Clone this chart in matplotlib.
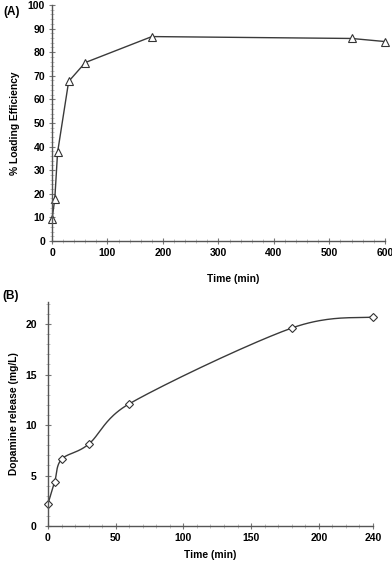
import matplotlib.pyplot as plt
import numpy as np
from matplotlib.ticker import MultipleLocator

plt.rcParams['font.family'] = ['Liberation Sans', 'DejaVu Sans']
plt.rcParams['font.weight'] = 'bold'

# Panel A: loading efficiency
time_a = [0, 5, 10, 30, 60, 180, 540, 600]
loading = [9.2, 17.8, 37.5, 67.6, 75.6, 86.6, 85.8, 84.5]

# Panel B: dopamine release
time_b = [0, 5, 10, 30, 60, 180, 240]
release = [2.2, 4.4, 6.6, 8.1, 12.1, 19.6, 20.7]

line_col = '#3a3a3a'


def excel_smooth(ax, x, y, n=40):
    # Excel-like smoothed line: Bezier segments, arms = min(d/6, chord/2),
    # computed in screen space so the scaling of the axes is respected
    pts = ax.transData.transform(np.column_stack([x, y]))
    p = np.vstack([pts[0], pts, pts[-1]])
    t = np.linspace(0, 1, n)[:, None]
    out = []
    for i in range(1, len(p) - 2):
        p0, p1, p2, p3 = p[i - 1], p[i], p[i + 1], p[i + 2]
        chord = np.linalg.norm(p2 - p1)
        v1 = p2 - p0
        v2 = p3 - p1
        l1 = min(np.linalg.norm(v1) / 6, chord / 2)
        l2 = min(np.linalg.norm(v2) / 6, chord / 2)
        c1 = p1 + v1 / (np.linalg.norm(v1) or 1) * l1
        c2 = p2 - v2 / (np.linalg.norm(v2) or 1) * l2
        b = (1 - t) ** 3 * p1 + 3 * (1 - t) ** 2 * t * c1 \
            + 3 * (1 - t) * t ** 2 * c2 + t ** 3 * p2
        out.append(b)
    out = ax.transData.inverted().transform(np.vstack(out))
    return out[:, 0], out[:, 1]


def style_axes(ax):
    for s in ['top', 'right']:
        ax.spines[s].set_visible(False)
    for s in ['left', 'bottom']:
        ax.spines[s].set_color('#555555')
        ax.spines[s].set_linewidth(1.0)
    ax.tick_params(which='major', direction='inout', length=4, width=0.8,
                   color='#777777', labelsize=7.5, pad=3)
    ax.tick_params(which='minor', direction='inout', length=2.5, width=0.5,
                   color='#aaaaaa')
    for lab in ax.get_xticklabels() + ax.get_yticklabels():
        lab.set_fontweight('bold')


fig = plt.figure(figsize=(3.92, 5.62), dpi=100)

ax1 = fig.add_axes([0.1327, 0.5712, 0.849, 0.42])
ax1.plot(time_a, loading, color=line_col, lw=1.0, marker='^', ms=6,
         mfc='white', mec='#333333', mew=0.8, clip_on=False)
ax1.set_xlim(0, 600)
ax1.set_ylim(0, 100)
ax1.xaxis.set_major_locator(MultipleLocator(100))
ax1.xaxis.set_minor_locator(MultipleLocator(20))
ax1.yaxis.set_major_locator(MultipleLocator(10))
ax1.yaxis.set_minor_locator(MultipleLocator(2))
style_axes(ax1)
ax1.set_ylabel('% Loading Efficiency', fontsize=7.4, fontweight='bold')
ax1.yaxis.set_label_coords(-0.096, 0.5)
ax1.set_xlabel('Time (min)', fontsize=7.4, fontweight='bold')
ax1.xaxis.set_label_coords(0.543, -0.138)
fig.text(0.008, 0.978, '(A)', fontsize=8.5, fontweight='bold', va='center')

ax2 = fig.add_axes([0.1224, 0.064, 0.829, 0.399])
ax2.set_xlim(0, 240)
ax2.set_ylim(0, 22.2)
sx, sy = excel_smooth(ax2, time_b, release)
ax2.plot(sx, sy, color=line_col, lw=1.0, clip_on=False)
ax2.plot(time_b, release, ls='none', marker='D', ms=4.5,
         mfc='white', mec='#333333', mew=0.8, clip_on=False)
ax2.set_xticks([0, 50, 100, 150, 200, 240])
ax2.xaxis.set_minor_locator(MultipleLocator(10))
ax2.yaxis.set_major_locator(MultipleLocator(5))
ax2.yaxis.set_minor_locator(MultipleLocator(1))
style_axes(ax2)
ax2.tick_params(axis='y', which='major', pad=6)
ax2.set_ylabel('Dopamine release (mg/L)', fontsize=7.4, fontweight='bold')
ax2.yaxis.set_label_coords(-0.09, 0.5)
ax2.set_xlabel('Time (min)', fontsize=7.4, fontweight='bold')
ax2.xaxis.set_label_coords(0.5, -0.108)
fig.text(0.005, 0.473, '(B)', fontsize=8.5, fontweight='bold', va='center')

fig.savefig('out.png', dpi=100)
